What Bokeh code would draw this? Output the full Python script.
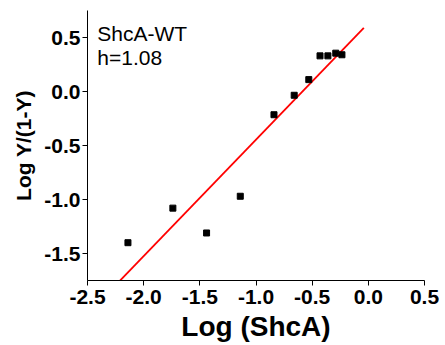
from bokeh.plotting import figure
from bokeh.models import Range1d, Label, FixedTicker, PrintfTickFormatter
from bokeh.embed import file_html
from bokeh.resources import INLINE

# data
log_shca = [-2.14, -1.74, -1.44, -1.14, -0.84, -0.66, -0.53, -0.43, -0.36, -0.29, -0.235]
log_ratio = [-1.40, -1.08, -1.31, -0.97, -0.215, -0.035, 0.11, 0.33, 0.33, 0.355, 0.34]
fit_x = [-2.33, -0.04]
fit_y = [-1.88, 0.59]
x_ticks = [-2.5, -2.0, -1.5, -1.0, -0.5, 0.0, 0.5]
y_ticks = [-1.5, -1.0, -0.5, 0.0, 0.5]
title_lines = ["ShcA-WT", "h=1.08"]

FONT = "Liberation Sans"

p = figure(width=445, height=345, output_backend="svg", toolbar_location=None,
           x_range=Range1d(-2.5, 0.5), y_range=Range1d(-1.75, 0.75),
           min_border_left=87, min_border_right=21, min_border_top=10, min_border_bottom=65)
p.outline_line_color = None
p.grid.visible = False
p.background_fill_color = "white"

p.line(fit_x, fit_y, line_color="#ff0000", line_width=1.8)
p.scatter(log_shca, log_ratio, marker="square", size=6, fill_color="black", line_color="black")

for ax in (p.xaxis[0], p.yaxis[0]):
    ax.axis_line_color = "black"
    ax.axis_line_width = 1
    ax.major_tick_line_color = "black"
    ax.major_tick_in = 0
    ax.major_tick_out = 5
    ax.minor_tick_line_color = None
    ax.major_label_text_font = FONT
    ax.major_label_text_font_style = "bold"
    ax.major_label_text_font_size = "21px"
    ax.major_label_text_color = "black"
    ax.axis_label_text_font = FONT
    ax.axis_label_text_font_style = "bold"
    ax.axis_label_text_color = "black"
    ax.formatter = PrintfTickFormatter(format="%.1f")

p.xaxis.ticker = FixedTicker(ticks=x_ticks)
p.yaxis.ticker = FixedTicker(ticks=y_ticks)
p.xaxis.axis_label = "Log (ShcA)"
p.xaxis.axis_label_text_font_size = "28px"
p.xaxis.major_label_standoff = 4
p.xaxis.axis_label_standoff = 4
p.yaxis.axis_label = "Log Y/(1-Y)"
p.yaxis.axis_label_text_font_size = "21px"
p.yaxis.major_label_standoff = 2
p.yaxis.axis_label_standoff = 6

p.add_layout(Label(x=-2.413, y=0.539, text=title_lines[0], text_font=FONT,
                   text_font_size="21px", text_color="black", text_baseline="alphabetic"))
p.add_layout(Label(x=-2.413, y=0.314, text=title_lines[1], text_font=FONT,
                   text_font_size="21px", text_color="black", text_baseline="alphabetic"))

open("out.html", "w").write(file_html(p, INLINE))
